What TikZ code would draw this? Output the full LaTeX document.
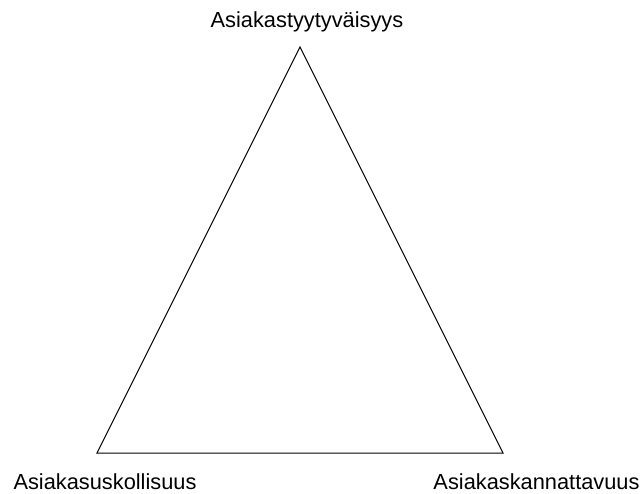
\documentclass[tikz,border=0pt]{standalone}
\usepackage{fontspec}
\setmainfont{Liberation Sans}
\begin{document}
\begin{tikzpicture}[x=1pt,y=-1pt,
  lbl/.style={inner sep=0pt,anchor=base,font=\fontsize{21.8}{26}\selectfont},
  edge/.style={draw=black,line width=1pt,line join=miter}]
\useasboundingbox (0,0) rectangle (643,493);
\coordinate (top) at (300,47);
\coordinate (bl) at (97,453);
\coordinate (br) at (503,453);
\draw[edge] (top) -- (bl) -- (br) -- cycle;
\node[lbl] (t) at (307,27.5) {Asiakastyytyväisyys};
\node[lbl] (l) at (105,489) {Asiakasuskollisuus};
\node[lbl] (r) at (536.5,489) {Asiakaskannattavuus};
\end{tikzpicture}
\end{document}
